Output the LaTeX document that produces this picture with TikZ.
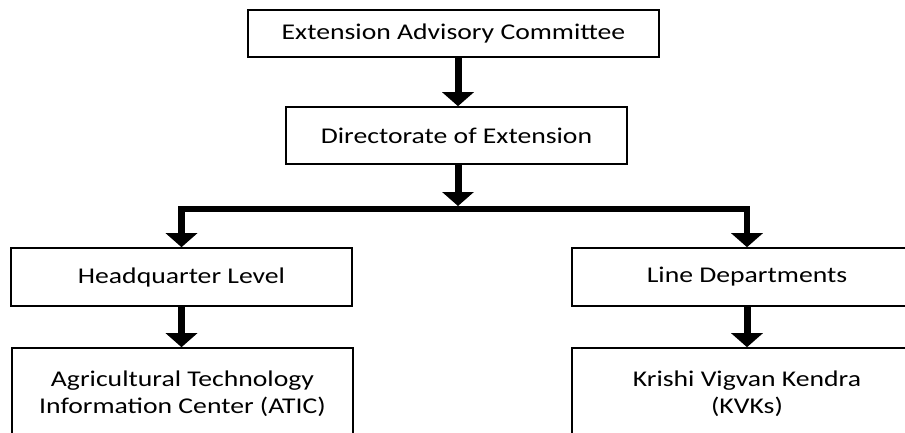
\documentclass[tikz,border=0pt]{standalone}
\usepackage{fontspec}
\setmainfont{Carlito}[FakeStretch=1.23]
\usetikzlibrary{arrows.meta}
\tikzset{
  box/.style={draw=black, line width=1.6pt, fill=white, align=center, inner sep=0pt,
    font=\fontsize{22.5}{27}\selectfont},
  arr/.style={line width=7pt, -{Triangle[length=14pt,width=31pt]}},
  arrboth/.style={line width=6.5pt, {Triangle[length=14pt,width=31pt]}-{Triangle[length=14pt,width=31pt]}, line join=miter}
}
\begin{document}
\begin{tikzpicture}[x=1pt,y=-1pt]
\useasboundingbox (0,0) rectangle (905,432);
\clip (0,0) rectangle (905,432);
\fill[white] (0,0) rectangle (905,432);
\node[box, minimum width=411pt, minimum height=47pt] (eac) at (453.5,33.5) {Extension Advisory Committee};
\node[box, minimum width=341pt, minimum height=57pt] (doe) at (456.5,135.5) {Directorate of Extension};
\node[box, minimum width=341pt, minimum height=58pt] (hq) at (181.5,277) {Headquarter Level};
\node[box, minimum width=350pt, minimum height=58pt] (ld) at (747,277) {Line Departments};
\node[box, minimum width=341pt, minimum height=92pt] (atic) at (182.5,394) {Agricultural Technology\\Information Center (ATIC)};
\node[box, minimum width=350pt, minimum height=92pt] (kvk) at (747,394) {Krishi Vigvan Kendra\\(KVKs)};
\coordinate (jn) at (458,209);
\draw[arr] (eac.south -| jn) -- (doe.north -| jn);
\draw[arr] (doe.south -| jn) -- ([yshift=3pt]jn);
\draw[arrboth] (hq.north) |- (jn) -| (ld.north);
\draw[arr] (hq.south) -- (hq.south |- atic.north);
\draw[arr] (ld.south) -- (ld.south |- kvk.north);
\end{tikzpicture}
\end{document}
